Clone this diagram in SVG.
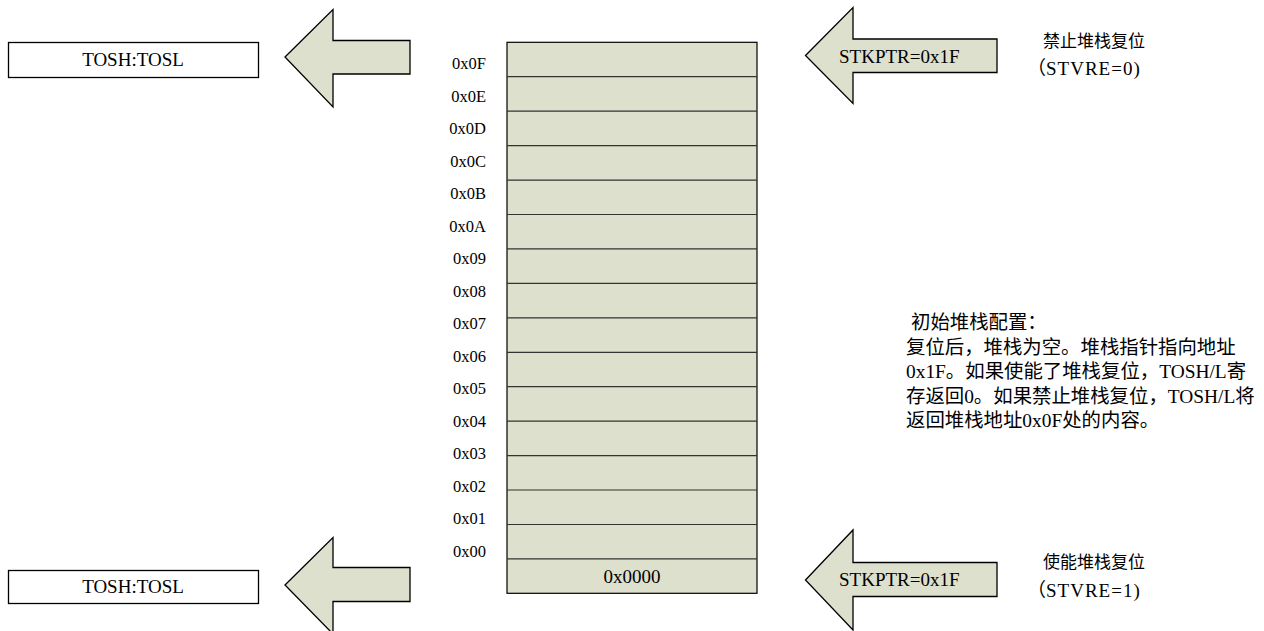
<svg xmlns="http://www.w3.org/2000/svg" width="1264" height="631" viewBox="0 0 1264 631">
<style>
.box{fill:#fff;stroke:#000;stroke-width:1.3}
.arrow{fill:#DDE0CC;stroke:#000;stroke-width:1.3;stroke-linejoin:miter}
.stack{fill:#DDE0CC;stroke:#000;stroke-width:1.2}
.row{stroke:#333;stroke-width:1.2}
.t{font-family:"Liberation Serif","Noto Sans CJK SC",serif;font-size:19px;fill:#000}
.p{font-family:"Liberation Serif","Noto Sans CJK SC",serif;font-size:19.4px;fill:#000}
.cn{font-family:"Liberation Serif","Noto Sans CJK SC",serif;font-size:17px;fill:#000}
.ls{letter-spacing:1px}
.lbl{font-family:"Liberation Serif",serif;font-size:16.5px;fill:#000;text-anchor:end}
.c{text-anchor:middle}
</style>
<rect width="1264" height="631" fill="#fff"/>
<g id="tos-top">
<rect class="box" x="8.5" y="42.5" width="250" height="35"/>
<text class="t c" x="133" y="66">TOSH:TOSL</text>
</g>
<g id="tos-bottom">
<rect class="box" x="8.5" y="570.5" width="250" height="33"/>
<text class="t c" x="133" y="593">TOSH:TOSL</text>
</g>
<g id="connectors">
<polygon id="arrow-left-top" class="arrow" points="285,57 333,9.5 333,40.5 410,40.5 410,74 333,74 333,107"/>
<polygon id="arrow-left-bottom" class="arrow" points="285,585 333,537.5 333,567.5 410,567.5 410,601.5 333,601.5 333,634"/>
</g>
<g id="stkptr-top">
<polygon class="arrow" points="805.5,55.5 853,7.5 853,39 997,39 997,72.5 853,72.5 853,103.5"/>
<text class="t" x="839" y="62.5">STKPTR=0x1F</text>
</g>
<g id="stkptr-bottom">
<polygon class="arrow" points="805.5,580 853,530 853,562.5 997,562.5 997,596.5 853,596.5 853,630"/>
<text class="t" x="839" y="586">STKPTR=0x1F</text>
</g>
<g id="stack">
<rect class="stack" x="507" y="42.3" width="250" height="551"/>
<line class="row" x1="507" x2="757" y1="76.7" y2="76.7"/>
<line class="row" x1="507" x2="757" y1="111.2" y2="111.2"/>
<line class="row" x1="507" x2="757" y1="145.6" y2="145.6"/>
<line class="row" x1="507" x2="757" y1="180.1" y2="180.1"/>
<line class="row" x1="507" x2="757" y1="214.5" y2="214.5"/>
<line class="row" x1="507" x2="757" y1="248.9" y2="248.9"/>
<line class="row" x1="507" x2="757" y1="283.4" y2="283.4"/>
<line class="row" x1="507" x2="757" y1="317.8" y2="317.8"/>
<line class="row" x1="507" x2="757" y1="352.3" y2="352.3"/>
<line class="row" x1="507" x2="757" y1="386.7" y2="386.7"/>
<line class="row" x1="507" x2="757" y1="421.1" y2="421.1"/>
<line class="row" x1="507" x2="757" y1="455.6" y2="455.6"/>
<line class="row" x1="507" x2="757" y1="490.0" y2="490.0"/>
<line class="row" x1="507" x2="757" y1="524.5" y2="524.5"/>
<line class="row" x1="507" x2="757" y1="558.9" y2="558.9"/>
<text class="t c" x="632" y="582.5">0x0000</text>
</g>
<g id="addresses">
<text class="lbl" x="486" y="69.3">0x0F</text>
<text class="lbl" x="486" y="101.8">0x0E</text>
<text class="lbl" x="486" y="134.3">0x0D</text>
<text class="lbl" x="486" y="166.7">0x0C</text>
<text class="lbl" x="486" y="199.2">0x0B</text>
<text class="lbl" x="486" y="231.7">0x0A</text>
<text class="lbl" x="486" y="264.2">0x09</text>
<text class="lbl" x="486" y="296.7">0x08</text>
<text class="lbl" x="486" y="329.1">0x07</text>
<text class="lbl" x="486" y="361.6">0x06</text>
<text class="lbl" x="486" y="394.1">0x05</text>
<text class="lbl" x="486" y="426.6">0x04</text>
<text class="lbl" x="486" y="459.1">0x03</text>
<text class="lbl" x="486" y="491.5">0x02</text>
<text class="lbl" x="486" y="524.0">0x01</text>
<text class="lbl" x="486" y="556.5">0x00</text>
</g>
<g id="note-disable">
<text class="cn" x="1043" y="46.5">禁止堆栈复位</text>
<text class="t" x="1027" y="74.5">（<tspan class="ls">STVRE=0)</tspan></text>
</g>
<g id="note-enable">
<text class="cn" x="1043" y="567.5">使能堆栈复位</text>
<text class="t" x="1027" y="596.5">（<tspan class="ls">STVRE=1)</tspan></text>
</g>
<g id="note-init">
<text class="p" x="911" y="329">初始堆栈配置：</text>
<text class="p" x="906" y="353.5">复位后，堆栈为空。堆栈指针指向地址</text>
<text class="p" x="906" y="378">0x1F。如果使能了堆栈复位，TOSH/L寄</text>
<text class="p" x="906" y="402.5">存返回0。如果禁止堆栈复位，TOSH/L将</text>
<text class="p" x="906" y="427">返回堆栈地址0x0F处的内容。</text>
</g>
</svg>
